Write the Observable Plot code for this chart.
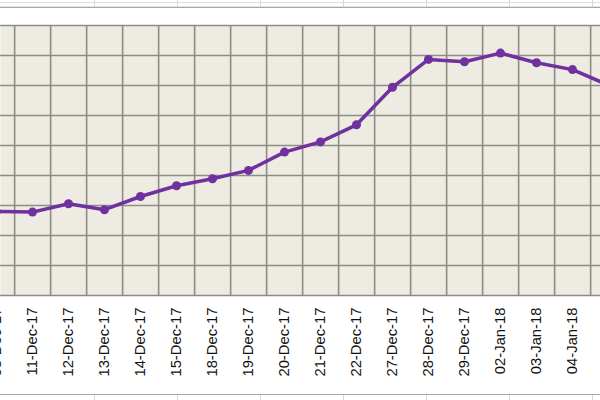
<!DOCTYPE html>
<html>
<head>
<meta charset="utf-8">
<script src="https://cdn.jsdelivr.net/npm/d3@7"></script>
<script src="https://cdn.jsdelivr.net/npm/@observablehq/plot@0.6"></script>
<style>
  html, body { margin: 0; padding: 0; background: #fff; width: 600px; height: 400px; overflow: hidden; }
  #wrap { position: relative; width: 600px; height: 400px; overflow: hidden; }
  #chart svg { display: block; overflow: hidden; max-width: none; }
  #chart svg text { font-family: Arial, "Liberation Sans", sans-serif; }
  .sheet { position: absolute; left: 12.45px; width: 600px;
    background-image: repeating-linear-gradient(to right, transparent 0px, transparent 82.05px, #d6d6d6 82.05px, #d6d6d6 83.05px); }
  .hline { position: absolute; left: 0; width: 600px; height: 0; }
</style>
</head>
<body>
<div id="wrap">
  <div class="sheet" style="top:0;height:7px"></div>
  <div class="hline" style="top:2px;border-top:1px solid #dedede"></div>
  <div class="hline" style="top:6px;border-top:1px solid #e4e4e4"></div>
  <div class="hline" style="top:7px;border-top:1.5px solid #a9a9a9"></div>
  <div class="hline" style="top:394px;border-top:1.5px solid #a9a9a9"></div>
  <div class="sheet" style="top:395px;height:5px"></div>
  <div id="chart"></div>
</div>
<script>
// Categories (trading days); first and last lie just outside the visible window
const dates = ["08-Dec-17","11-Dec-17","12-Dec-17","13-Dec-17","14-Dec-17","15-Dec-17",
  "18-Dec-17","19-Dec-17","20-Dec-17","21-Dec-17","22-Dec-17","27-Dec-17",
  "28-Dec-17","29-Dec-17","02-Jan-18","03-Jan-18","04-Jan-18","05-Jan-18"];
// Values in gridline units (y-axis labels are cropped off in the reference)
const values = [2.80, 2.78, 3.06, 2.86, 3.30, 3.66, 3.89, 4.17, 4.78, 5.12, 5.69, 6.94,
  7.87, 7.79, 8.08, 7.76, 7.53, 7.01];
const yTicks = [0, 1, 2, 3, 4, 5, 6, 7, 8, 9];

const data = dates.map((d, i) => ({date: d, value: values[i]}));

const step = 36.25;
const first = -5.825;
const xRange = [first, first + step * (dates.length - 1)];
const grid = "#8f8c84";
const purple = "#7030A0";

const chart = Plot.plot({
  width: 600,
  height: 400,
  marginTop: 25,
  marginBottom: 105,
  marginLeft: 0,
  marginRight: 0,
  style: {background: "transparent", color: "#111"},
  x: {type: "point", domain: dates, range: xRange, padding: 0},
  y: {domain: [0, 9], axis: null},
  marks: [
    Plot.frame({fill: "#edebe2", stroke: null}),
    Plot.ruleY(yTicks, {stroke: grid, strokeWidth: 1.6}),
    Plot.ruleX(dates, {dx: step / 2, stroke: grid, strokeWidth: 1.6}),
    Plot.line(data, {x: "date", y: "value", stroke: purple, strokeWidth: 3.5}),
    Plot.dot(data, {x: "date", y: "value", r: 4.5, fill: purple, stroke: null}),
    Plot.axisX({anchor: "bottom", tickSize: 0, tickPadding: 12, tickRotate: -90, fontSize: 14.8, label: null, fill: "#111"})
  ]
});
document.getElementById("chart").appendChild(chart);
</script>
</body>
</html>
